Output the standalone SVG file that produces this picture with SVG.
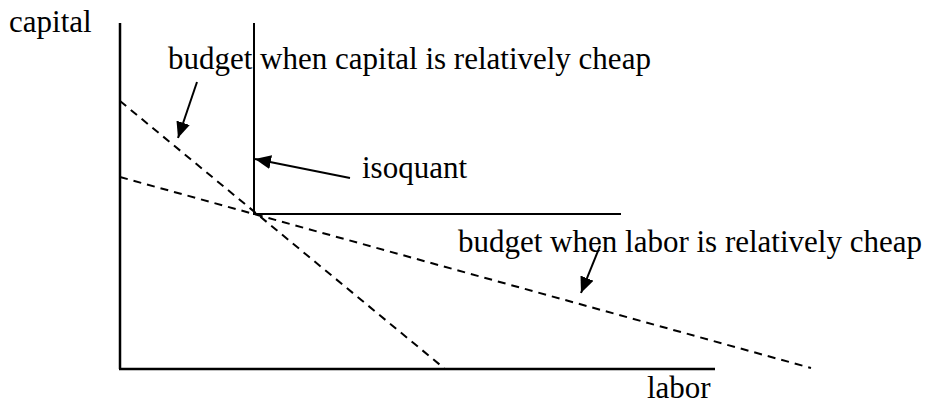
<svg xmlns="http://www.w3.org/2000/svg" width="938" height="407" viewBox="0 0 938 407">
<style>
text{font-family:'Liberation Serif','Times New Roman','DejaVu Serif',serif;font-size:31px;fill:#000}
.ax{stroke:#000;stroke-width:2.5;fill:none}
.iso{stroke:#000;stroke-width:2;fill:none}
.dash{stroke:#000;stroke-width:2;fill:none;stroke-dasharray:8,6}
.arr{stroke:#000;stroke-width:2;fill:none;marker-end:url(#ah)}
</style>
<defs>
<marker id="ah" markerUnits="userSpaceOnUse" markerWidth="18" markerHeight="14" refX="16" refY="7" orient="auto">
<path d="M0,0 L16,7 L0,14 Z" fill="#000"/>
</marker>
</defs>
<g id="axes">
<line class="ax" x1="120" y1="23" x2="120" y2="369"/>
<line class="ax" x1="119" y1="369" x2="715" y2="369"/>
<text x="9" y="32" font-family="Liberation Serif, serif">capital</text>
<text x="647" y="398" font-family="Liberation Serif, serif">labor</text>
</g>
<g id="isoquant">
<polyline class="iso" points="254,23 254,214 621,214"/>
<text x="362" y="178" font-family="Liberation Serif, serif">isoquant</text>
</g>
<g id="budget-capital">
<line class="dash" x1="120" y1="101" x2="445" y2="369"/>
<text x="168" y="69" font-family="Liberation Serif, serif">budget when capital is relatively cheap</text>
</g>
<g id="budget-labor">
<line class="dash" x1="120" y1="177" x2="811" y2="368"/>
<text x="458" y="252" font-family="Liberation Serif, serif">budget when labor is relatively cheap</text>
</g>
<g id="connectors">
<line class="arr" x1="197" y1="82" x2="178" y2="138"/>
<line class="arr" x1="350" y1="178" x2="255" y2="159"/>
<line class="arr" x1="600" y1="246" x2="581" y2="293"/>
</g>
</svg>
